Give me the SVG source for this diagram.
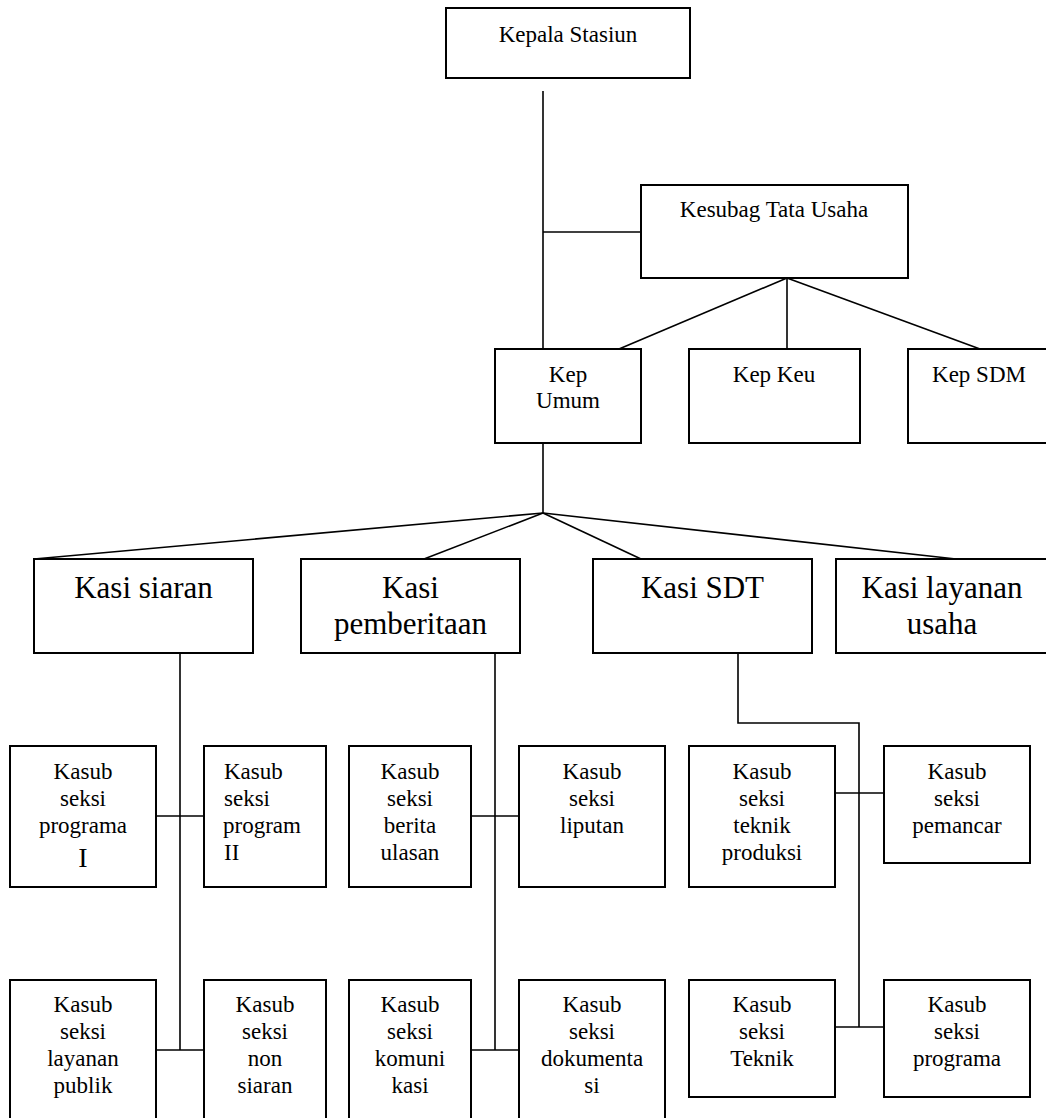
<svg xmlns="http://www.w3.org/2000/svg" width="1046" height="1118" viewBox="0 0 1046 1118" font-family="Liberation Serif, Times New Roman, serif">
<style>
rect.box{fill:#fff;stroke:#000;stroke-width:2}
.lines line,.lines polyline{stroke:#000;stroke-width:1.6;fill:none}
text{font-family:'Liberation Serif','Times New Roman',serif;fill:#000}
.s{font-size:23px;text-anchor:middle}
.sl{font-size:23px}
.b{font-size:31px;text-anchor:middle}
.big{font-size:28px}
</style>
<rect width="1046" height="1118" fill="#fff"/>
<g class="lines" id="connectors">
<line x1="543" y1="91" x2="543" y2="349"/>
<line x1="543" y1="232" x2="641" y2="232"/>
<line x1="787" y1="278" x2="619" y2="349"/>
<line x1="787" y1="278" x2="787" y2="349"/>
<line x1="787" y1="278" x2="980" y2="349"/>
<line x1="543" y1="443" x2="543" y2="513"/>
<line x1="543" y1="513" x2="34" y2="559"/>
<line x1="543" y1="513" x2="424" y2="559"/>
<line x1="543" y1="513" x2="641" y2="559"/>
<line x1="543" y1="513" x2="956" y2="559"/>
<line x1="180" y1="653" x2="180" y2="1050"/>
<line x1="156" y1="816" x2="204" y2="816"/>
<line x1="156" y1="1050" x2="204" y2="1050"/>
<line x1="495" y1="653" x2="495" y2="1050"/>
<line x1="471" y1="816" x2="519" y2="816"/>
<line x1="471" y1="1050" x2="519" y2="1050"/>
<polyline points="738,653 738,723 859,723 859,1027"/>
<line x1="835" y1="793" x2="884" y2="793"/>
<line x1="835" y1="1027" x2="884" y2="1027"/>
</g>
<g id="kepala-stasiun"><rect class="box" x="446" y="8" width="244" height="70"/><text class="s" x="568" y="42">Kepala Stasiun</text></g>
<g id="kesubag"><rect class="box" x="641" y="185" width="267" height="93"/><text class="s" x="774" y="217">Kesubag Tata Usaha</text></g>
<g id="kep-umum"><rect class="box" x="495" y="349" width="146" height="94"/><text class="s" x="568" y="382">Kep</text><text class="s" x="568" y="408">Umum</text></g>
<g id="kep-keu"><rect class="box" x="689" y="349" width="171" height="94"/><text class="s" x="774" y="382">Kep Keu</text></g>
<g id="kep-sdm"><rect class="box" x="908" y="349" width="140" height="94"/><text class="s" x="979" y="382">Kep SDM</text></g>
<g id="kasi-siaran"><rect class="box" x="34" y="559" width="219" height="94"/><text class="b" x="143.5" y="598">Kasi siaran</text></g>
<g id="kasi-pemberitaan"><rect class="box" x="301" y="559" width="219" height="94"/><text class="b" x="410.5" y="598">Kasi</text><text class="b" x="410.5" y="634">pemberitaan</text></g>
<g id="kasi-sdt"><rect class="box" x="593" y="559" width="219" height="94"/><text class="b" x="702.5" y="598">Kasi SDT</text></g>
<g id="kasi-layanan"><rect class="box" x="836" y="559" width="212" height="94"/><text class="b" x="942" y="598">Kasi layanan</text><text class="b" x="942" y="634">usaha</text></g>
<g id="programa-1"><rect class="box" x="10" y="746" width="146" height="141"/><text class="s" x="83" y="779">Kasub</text><text class="s" x="83" y="806">seksi</text><text class="s" x="83" y="833">programa</text><text class="s big" x="83" y="867">I</text></g>
<g id="program-2"><rect class="box" x="204" y="746" width="122" height="141"/><text class="sl" x="224" y="779">Kasub</text><text class="sl" x="224" y="806">seksi</text><text class="sl" x="223" y="833">program</text><text class="sl" x="224" y="860">II</text></g>
<g id="berita-ulasan"><rect class="box" x="349" y="746" width="122" height="141"/><text class="s" x="410" y="779">Kasub</text><text class="s" x="410" y="806">seksi</text><text class="s" x="410" y="833">berita</text><text class="s" x="410" y="860">ulasan</text></g>
<g id="liputan"><rect class="box" x="519" y="746" width="146" height="141"/><text class="s" x="592" y="779">Kasub</text><text class="s" x="592" y="806">seksi</text><text class="s" x="592" y="833">liputan</text></g>
<g id="teknik-produksi"><rect class="box" x="689" y="746" width="146" height="141"/><text class="s" x="762" y="779">Kasub</text><text class="s" x="762" y="806">seksi</text><text class="s" x="762" y="833">teknik</text><text class="s" x="762" y="860">produksi</text></g>
<g id="pemancar"><rect class="box" x="884" y="746" width="146" height="117"/><text class="s" x="957" y="779">Kasub</text><text class="s" x="957" y="806">seksi</text><text class="s" x="957" y="833">pemancar</text></g>
<g id="layanan-publik"><rect class="box" x="10" y="980" width="146" height="150"/><text class="s" x="83" y="1012">Kasub</text><text class="s" x="83" y="1039">seksi</text><text class="s" x="83" y="1066">layanan</text><text class="s" x="83" y="1093">publik</text></g>
<g id="non-siaran"><rect class="box" x="204" y="980" width="122" height="150"/><text class="s" x="265" y="1012">Kasub</text><text class="s" x="265" y="1039">seksi</text><text class="s" x="265" y="1066">non</text><text class="s" x="265" y="1093">siaran</text></g>
<g id="komunikasi"><rect class="box" x="349" y="980" width="122" height="150"/><text class="s" x="410" y="1012">Kasub</text><text class="s" x="410" y="1039">seksi</text><text class="s" x="410" y="1066">komuni</text><text class="s" x="410" y="1093">kasi</text></g>
<g id="dokumentasi"><rect class="box" x="519" y="980" width="146" height="150"/><text class="s" x="592" y="1012">Kasub</text><text class="s" x="592" y="1039">seksi</text><text class="s" x="592" y="1066">dokumenta</text><text class="s" x="592" y="1093">si</text></g>
<g id="teknik"><rect class="box" x="689" y="980" width="146" height="117"/><text class="s" x="762" y="1012">Kasub</text><text class="s" x="762" y="1039">seksi</text><text class="s" x="762" y="1066">Teknik</text></g>
<g id="programa"><rect class="box" x="884" y="980" width="146" height="117"/><text class="s" x="957" y="1012">Kasub</text><text class="s" x="957" y="1039">seksi</text><text class="s" x="957" y="1066">programa</text></g>
</svg>
